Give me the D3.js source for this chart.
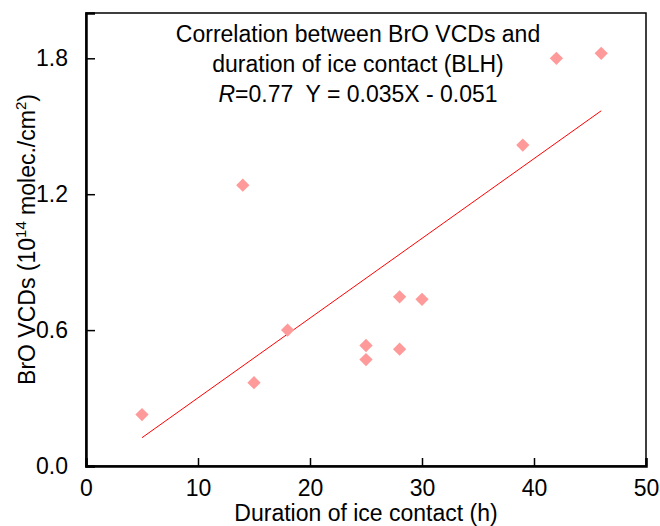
<!DOCTYPE html>
<html>
<head>
<meta charset="utf-8">
<script src="https://cdn.jsdelivr.net/npm/d3@7"></script>
<style>
  body { margin: 0; background: #fff; }
  text { font-family: "Liberation Sans", Arial, sans-serif; fill: #000; }
</style>
</head>
<body>
<svg id="chart" width="660" height="526"></svg>
<script>
// data
var hours = [5, 14, 15, 18, 25, 25, 28, 28, 30, 39, 42, 46];
var broVcd = [0.227, 1.24, 0.368, 0.60, 0.532, 0.470, 0.516, 0.747, 0.736, 1.417, 1.80, 1.822];
var fitSlope = 0.0352;
var fitIntercept = -0.051;
var fitRange = [5, 46];
var xTicks = [0, 10, 20, 30, 40, 50];
var yTicks = [0.0, 0.6, 1.2, 1.8];
var titleLines = ["Correlation between BrO VCDs and", "duration of ice contact (BLH)"];

var svg = d3.select('#chart');
var plotLeft = 86, plotRight = 646, plotTop = 13, plotBottom = 466;

var x = d3.scaleLinear().domain([0, 50]).range([plotLeft, plotRight]);
var y = d3.scaleLinear().domain([0, 2.0]).range([plotBottom, plotTop]);

// frame
svg.append('rect')
    .attr('x', plotLeft).attr('y', plotTop)
    .attr('width', plotRight - plotLeft).attr('height', plotBottom - plotTop)
    .attr('fill', 'none').attr('stroke', '#000').attr('stroke-width', 1.5);

// axes with inward ticks
var xAxis = svg.append('g')
    .attr('transform', 'translate(0,' + plotBottom + ')')
    .call(d3.axisBottom(x).tickValues(xTicks).tickSize(-8).tickPadding(14).tickFormat(d3.format('d')));
var yAxis = svg.append('g')
    .attr('transform', 'translate(' + plotLeft + ',0)')
    .call(d3.axisLeft(y).tickValues(yTicks).tickSize(-9).tickPadding(18).tickFormat(d3.format('.1f')));

[xAxis, yAxis].forEach(function (g) {
    g.select('.domain').attr('stroke-width', 2.5);
    g.selectAll('.tick line').attr('stroke-width', 1.5);
    g.selectAll('.tick text').style('font-size', '23px').attr('font-family', null);
});

// fit line
svg.append('line')
    .attr('x1', x(fitRange[0])).attr('y1', y(fitSlope * fitRange[0] + fitIntercept))
    .attr('x2', x(fitRange[1])).attr('y2', y(fitSlope * fitRange[1] + fitIntercept))
    .attr('stroke', '#ff0000').attr('stroke-width', 1);

// points
var diamond = d3.symbol().type(d3.symbolSquare).size(88);
svg.selectAll('.pt')
    .data(hours)
    .enter()
    .append('path')
    .attr('class', 'pt')
    .attr('d', diamond)
    .attr('transform', function (d, i) { return 'translate(' + x(d) + ',' + y(broVcd[i]) + ') rotate(45)'; })
    .attr('fill', '#ff9a9a');

// title block
var cx = 358;
titleLines.forEach(function (t, i) {
    svg.append('text')
        .attr('x', cx).attr('y', 42 + i * 30)
        .attr('text-anchor', 'middle')
        .style('font-size', '23px')
        .text(t);
});
var eq = svg.append('text')
    .attr('x', cx).attr('y', 102)
    .attr('text-anchor', 'middle')
    .style('font-size', '23px')
    .attr('xml:space', 'preserve');
eq.append('tspan').style('font-style', 'italic').text('R');
eq.append('tspan').text('=0.77  Y = 0.035X - 0.051');

// axis titles
svg.append('text')
    .attr('x', (plotLeft + plotRight) / 2).attr('y', 521)
    .attr('text-anchor', 'middle')
    .style('font-size', '23px')
    .text('Duration of ice contact (h)');

var yl = svg.append('text')
    .attr('transform', 'translate(35,' + (plotTop + plotBottom) / 2 + ') rotate(-90)')
    .attr('text-anchor', 'middle')
    .style('font-size', '23px');
yl.append('tspan').text('BrO VCDs (10');
yl.append('tspan').attr('dy', -9).style('font-size', '15px').text('14');
yl.append('tspan').attr('dy', 9).text(' molec./cm');
yl.append('tspan').attr('dy', -9).style('font-size', '15px').text('2');
yl.append('tspan').attr('dy', 9).text(')');
</script>
</body>
</html>
